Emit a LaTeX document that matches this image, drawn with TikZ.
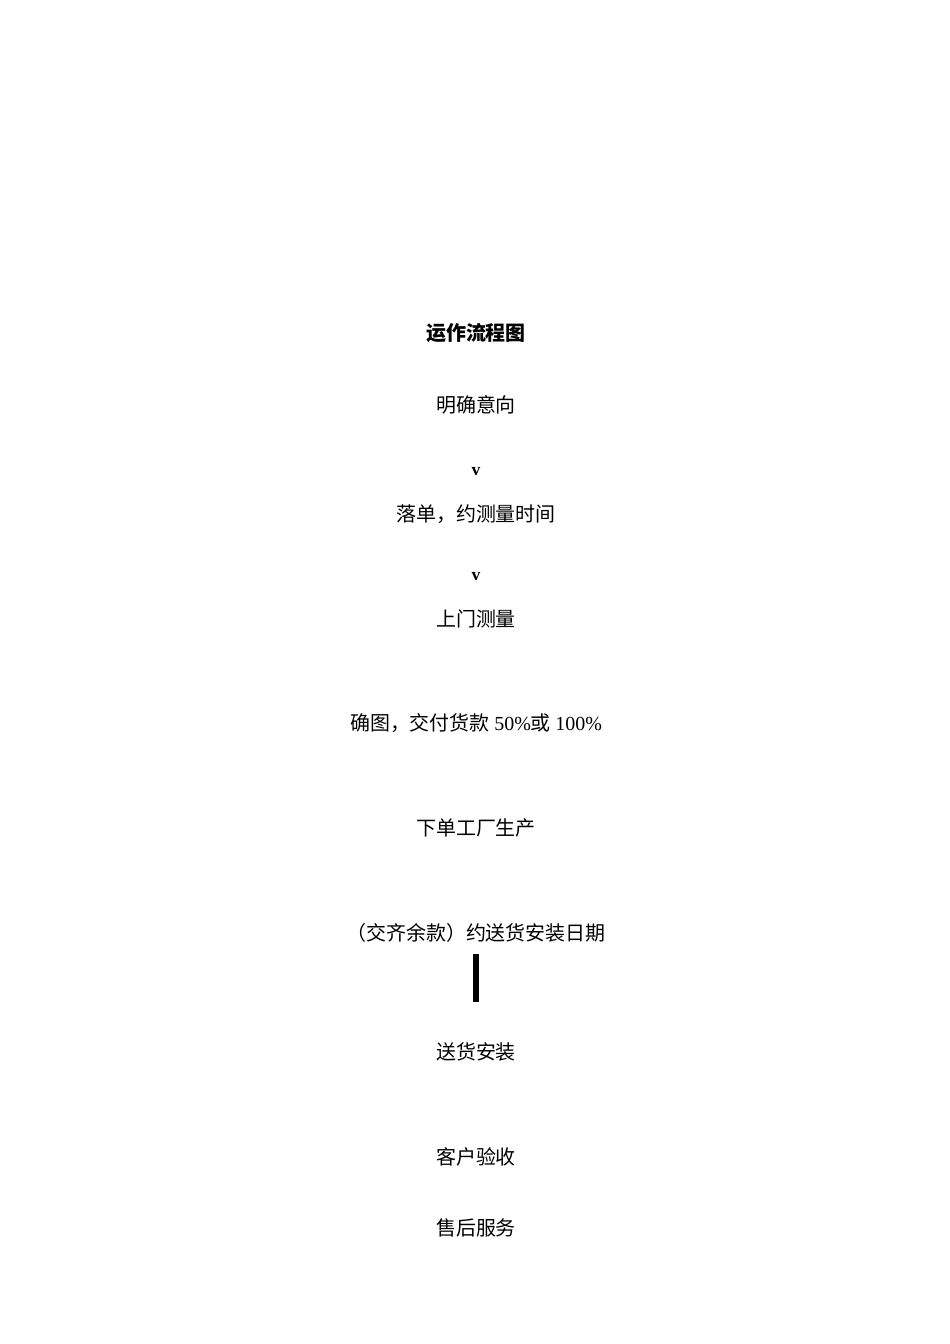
\documentclass[tikz,border=0pt]{standalone}
\usepackage{fontspec}
\setmainfont{Liberation Serif}
\newfontfamily\cjk{Noto Sans CJK SC}
\begin{document}
\begin{tikzpicture}[x = .6263pt, y = -.6263pt,
    stepbox/.style = {font = \fontsize{12.5}{15}\selectfont\cjk, inner sep = 1pt},
    vmark/.style = {font = \fontsize{11}{13}\selectfont\bfseries, inner sep = 1pt}]
  \useasboundingbox (0,0) rectangle (950,1344);
  \node [stepbox, font = \fontsize{12.5}{15}\selectfont\cjk\bfseries] (title) at (476,333) {运作流程图};
  \node [stepbox] (intent) at (476,405) {明确意向};
  \node [vmark] (v1) at (476,472) {v};
  \node [stepbox] (order) at (476,514) {落单，约测量时间};
  \node [vmark] (v2) at (476,577) {v};
  \node [stepbox] (measure) at (476,619) {上门测量};
  \node [stepbox] (confirm) at (476,723) {确图，交付货款 {\rmfamily 50\%}或 {\rmfamily 100\%}};
  \node [stepbox] (factory) at (476,828) {下单工厂生产};
  \node [stepbox] (date) at (476,933) {（交齐余款）约送货安装日期};
  \node [stepbox] (install) at (476,1052) {送货安装};
  \node [stepbox] (accept) at (476,1157) {客户验收};
  \node [stepbox] (service) at (476,1228) {售后服务};
  \draw [line width = 3.8pt, shorten < = 6pt, shorten > = 24pt] (date) -- (install);
\end{tikzpicture}
\end{document}
